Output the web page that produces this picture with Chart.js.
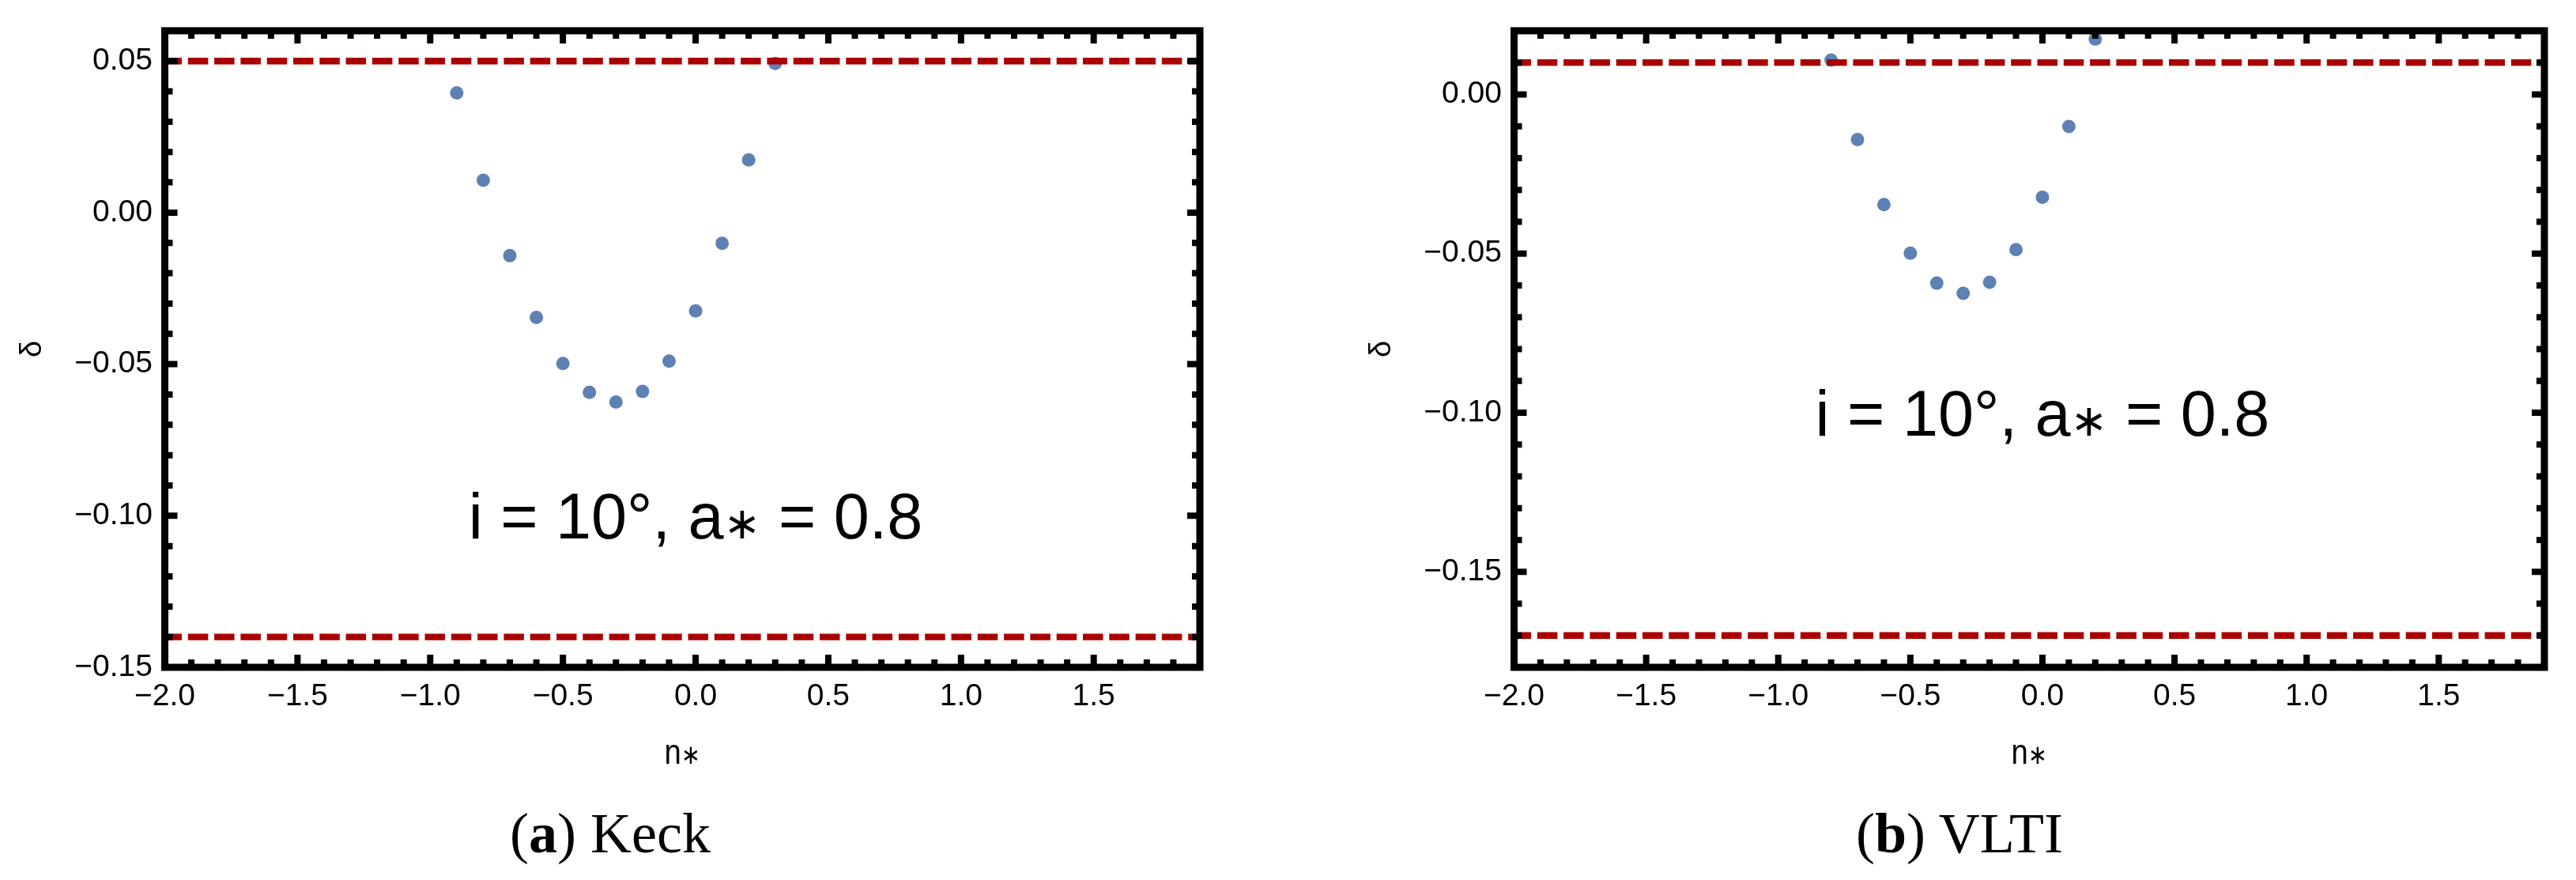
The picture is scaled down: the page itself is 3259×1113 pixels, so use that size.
<!DOCTYPE html>
<html>
<head>
<meta charset="utf-8">
<script src="https://cdn.jsdelivr.net/npm/chart.js@4.4.1/dist/chart.umd.min.js"></script>
<style>
  html, body { margin: 0; padding: 0; background: #fff; }
  body { width: 3259px; height: 1113px; position: relative; overflow: hidden; }
  canvas { position: absolute; top: 0; }
  #keck { left: 0; }
  #vlti { left: 1707px; }
  .caption {
    position: absolute; top: 1018px; width: 600px;
    font-family: "Liberation Serif", serif; font-size: 72px; line-height: 72px;
    text-align: center; white-space: nowrap; color: #000;
  }
</style>
</head>
<body>
<canvas id="keck" width="1600" height="1000"></canvas>
<canvas id="vlti" width="1552" height="1000"></canvas>
<div class="caption" style="left:472px">(<b>a</b>) Keck</div>
<div class="caption" style="left:2179px">(<b>b</b>) VLTI</div>
<script>
// values
const nKeck = [-0.9, -0.8, -0.7, -0.6, -0.5, -0.4, -0.3, -0.2, -0.1, 0.0, 0.1, 0.2, 0.3];
const deltaKeck = [0.0395, 0.0107, -0.0142, -0.0346, -0.0498, -0.0593, -0.0625, -0.0590, -0.0490, -0.0324, -0.0101, 0.0174, 0.0492];
const boundsKeck = [0.05, -0.14];

const nVlti = [-0.8, -0.7, -0.6, -0.5, -0.4, -0.3, -0.2, -0.1, 0.0, 0.1, 0.2];
const deltaVlti = [0.0108, -0.0142, -0.0346, -0.0499, -0.0593, -0.0625, -0.0590, -0.0488, -0.0323, -0.0101, 0.0174];
const boundsVlti = [0.01, -0.17];

const xRange = [-2.0, 1.9];
const xTicks = [-2.0, -1.5, -1.0, -0.5, 0.0, 0.5, 1.0, 1.5];
const yRangeKeck = [-0.15, 0.06];
const yTicksKeck = [0.05, 0.00, -0.05, -0.10, -0.15];
const yRangeVlti = [-0.18, 0.02];
const yTicksVlti = [0.00, -0.05, -0.10, -0.15];

// annotation pieces: text before the star, the star, text after it
const note = ['i = 10°, a', '\u2217', ' = 0.8'];
const noteAt = [0.0, -0.1];
const xTitle = ['n', '\u2217'];

const fmt = (v, d) => (v < 0 ? '\u2212' : '') + Math.abs(v).toFixed(d);

// writes [text, star, text] on one baseline, star in a smaller font
function starText(ctx, parts, cx, base, big, small) {
  const fonts = [big, small, big];
  const widths = parts.map((p, i) => { ctx.font = fonts[i]; return ctx.measureText(p).width; });
  let x = cx - widths.reduce((s, w) => s + w, 0) / 2;
  ctx.textAlign = 'left';
  ctx.textBaseline = 'alphabetic';
  parts.forEach((p, i) => {
    ctx.font = fonts[i];
    ctx.fillText(p, x, base);
    x += widths[i];
  });
}

// frame with inward ticks on all four sides, plus the texts drawn by hand
const framePlugin = {
  id: 'frame',
  afterDatasetsDraw(chart) {
    const { ctx, chartArea: a, scales: { x, y } } = chart;
    ctx.save();
    ctx.strokeStyle = '#000';
    ctx.lineCap = 'butt';
    ctx.lineWidth = 8;
    for (let k = Math.round(x.min * 10); k <= Math.round(x.max * 10); k++) {
      const px = x.getPixelForValue(k / 10);
      const len = k % 5 === 0 ? 16 : 10;
      ctx.beginPath();
      ctx.moveTo(px, a.bottom); ctx.lineTo(px, a.bottom - len);
      ctx.moveTo(px, a.top); ctx.lineTo(px, a.top + len);
      ctx.stroke();
    }
    for (let k = Math.round(y.min * 100); k <= Math.round(y.max * 100); k++) {
      const py = y.getPixelForValue(k / 100);
      const len = k % 5 === 0 ? 16 : 10;
      ctx.beginPath();
      ctx.moveTo(a.left, py); ctx.lineTo(a.left + len, py);
      ctx.moveTo(a.right, py); ctx.lineTo(a.right - len, py);
      ctx.stroke();
    }
    ctx.lineWidth = 9;
    ctx.strokeRect(a.left, a.top, a.right - a.left, a.bottom - a.top);

    ctx.fillStyle = '#000';
    starText(ctx, note, x.getPixelForValue(noteAt[0]), y.getPixelForValue(noteAt[1]) + 0.358 * 81,
      '81px "Liberation Sans"', '56px "DejaVu Sans"');

    // x axis title, n is a bit narrow in the original
    ctx.save();
    const cx = (a.left + a.right) / 2;
    ctx.translate(cx, 966);
    ctx.scale(0.85, 1);
    starText(ctx, xTitle.concat(['']), 0, 0, '45px "Liberation Sans"', '34px "DejaVu Sans"');
    ctx.restore();
    ctx.restore();
  }
};

function makeChart(id, n, delta, bounds, yTicks, yRange, padRight) {
  const dots = {
    data: n.map((v, i) => ({ x: v, y: delta[i] })),
    backgroundColor: '#5E81B5',
    pointRadius: 8.5,
    borderWidth: 0,
    order: 1
  };
  const lines = bounds.map(b => ({
    type: 'line',
    data: xRange.map(v => ({ x: v, y: b })),
    borderColor: '#AA0000',
    borderWidth: 8.3,
    borderDash: [25.5, 7.8],
    borderDashOffset: 4,
    pointRadius: 0,
    fill: false,
    order: 0
  }));

  return new Chart(document.getElementById(id), {
    type: 'scatter',
    data: { datasets: [dots, ...lines] },
    options: {
      responsive: false,
      animation: false,
      events: [],
      devicePixelRatio: 1,
      layout: { padding: { top: 36.5, right: padRight, left: 0, bottom: 0 } },
      plugins: { legend: { display: false }, tooltip: { enabled: false } },
      scales: {
        x: {
          type: 'linear',
          min: xRange[0],
          max: xRange[1],
          afterBuildTicks: s => { s.ticks = xTicks.map(v => ({ value: v })); },
          afterFit: s => { s.height = 156; },
          grid: { display: false, drawTicks: false },
          border: { display: false },
          ticks: {
            autoSkip: false, maxRotation: 0, padding: 13.6, color: '#000',
            font: { family: 'Liberation Sans', size: 39 },
            callback: v => fmt(v, 1)
          },
          title: { display: false }
        },
        y: {
          type: 'linear',
          min: yRange[0],
          max: yRange[1],
          afterBuildTicks: s => { s.ticks = yTicks.map(v => ({ value: v })); },
          afterFit: s => { s.width = 208.5; },
          grid: { display: false, drawTicks: false },
          border: { display: false },
          ticks: {
            autoSkip: false, padding: 15.5, color: '#000',
            font: { family: 'Liberation Sans', size: 39 },
            callback: v => fmt(v, 2)
          },
          title: {
            display: true, text: '\u03b4', color: '#000',
            font: { family: 'Liberation Sans', size: 38 },
            padding: { top: 19.2, bottom: 0 }
          }
        }
      }
    },
    plugins: [framePlugin]
  });
}

makeChart('keck', nKeck, deltaKeck, boundsKeck, yTicksKeck, yRangeKeck, 82);
makeChart('vlti', nVlti, deltaVlti, boundsVlti, yTicksVlti, yRangeVlti, 40);
</script>
</body>
</html>
